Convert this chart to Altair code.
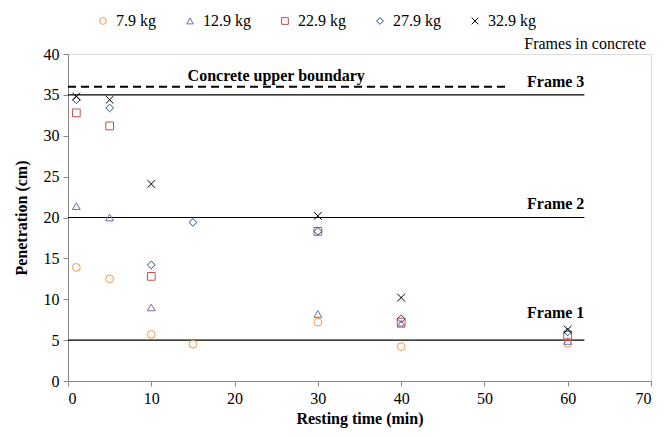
import altair as alt
import pandas as pd

# ---- data ----
series = ["7.9 kg", "12.9 kg", "22.9 kg", "27.9 kg", "32.9 kg"]
colors = ["#F79646", "#8064A2", "#C0504D", "#1F4E8C", "#000000"]
shapes = ["circle", "triangle-up", "square", "diamond", "M-1,-1L1,1M-1,1L1,-1"]

t_79 = [1, 5, 10, 15, 30, 40, 60]
p_79 = [13.9, 12.5, 5.7, 4.5, 7.2, 4.2, 4.6]
t_129 = [1, 5, 10, 30, 40, 60]
p_129 = [21.4, 20.0, 9.0, 8.2, 7.0, 4.9]
t_229 = [1, 5, 10, 30, 40, 60]
p_229 = [32.8, 31.2, 12.8, 18.3, 7.2, 5.6]
t_279 = [1, 5, 10, 15, 30, 40, 60]
p_279 = [34.4, 33.4, 14.2, 19.4, 18.3, 7.6, 6.0]
t_329 = [1, 5, 10, 30, 40, 60]
p_329 = [34.8, 34.4, 24.1, 20.2, 10.2, 6.3]

frame_levels = [5, 20, 35]
frame_labels = ["Frame 1", "Frame 2", "Frame 3"]
frame_label_y = [8.3, 21.7, 36.6]
frame_end = 62
boundary_level = 36
boundary_end = 53

FONT = "Liberation Serif"

rows = []
for name, ts, ps in zip(series, [t_79, t_129, t_229, t_279, t_329],
                        [p_79, p_129, p_229, p_279, p_329]):
    for t, p in zip(ts, ps):
        rows.append({"time": t, "pen": p, "series": name})
df = pd.DataFrame(rows)

xscale = alt.Scale(domain=[0, 70], nice=False)
yscale = alt.Scale(domain=[0, 40], nice=False)

points = alt.Chart(df).mark_point(filled=False, size=60, strokeWidth=1, opacity=1).encode(
    x=alt.X("time:Q", scale=xscale,
            axis=alt.Axis(title="Resting time (min)", values=list(range(0, 71, 10)),
                          grid=False, domainColor="#888888", tickColor="#888888",
                          tickSize=5, labelFont=FONT, labelFontSize=16, labelColor="black",
                          titleFont=FONT, titleFontSize=16, titleFontWeight="bold",
                          titleColor="black", labelPadding=4, titlePadding=4)),
    y=alt.Y("pen:Q", scale=yscale,
            axis=alt.Axis(title="Penetration (cm)", values=list(range(0, 41, 5)),
                          grid=False, domainColor="#888888", tickColor="#888888",
                          tickSize=5, labelFont=FONT, labelFontSize=16, labelColor="black",
                          titleFont=FONT, titleFontSize=16, titleFontWeight="bold",
                          titleColor="black", labelPadding=4, titlePadding=14)),
    color=alt.Color("series:N", scale=alt.Scale(domain=series, range=colors),
                    legend=alt.Legend(orient="none", legendX=27, legendY=-41,
                                      direction="horizontal", title=None,
                                      labelFont=FONT, labelFontSize=16, labelColor="black",
                                      symbolSize=45, symbolStrokeWidth=1,
                                      columnPadding=26, labelOffset=5)),
    shape=alt.Shape("series:N", scale=alt.Scale(domain=series, range=shapes), legend=None),
)

frames_df = pd.DataFrame({"y": frame_levels, "x0": [0] * 3, "x1": [frame_end] * 3,
                          "label": frame_labels, "ly": frame_label_y})
frame_rules = alt.Chart(frames_df).mark_rule(color="black", strokeWidth=1.2).encode(
    x=alt.X("x0:Q", scale=xscale), x2="x1:Q", y=alt.Y("y:Q", scale=yscale))
frame_text = alt.Chart(frames_df).mark_text(
    align="right", baseline="middle", font=FONT, fontSize=16, fontWeight="bold",
    color="black").encode(x=alt.X("x1:Q", scale=xscale), y=alt.Y("ly:Q", scale=yscale),
                          text="label:N")

bdf = pd.DataFrame({"y": [boundary_level], "x0": [0], "x1": [boundary_end],
                    "tx": [25], "ty": [37.3], "label": ["Concrete upper boundary"]})
boundary = alt.Chart(bdf).mark_rule(color="black", strokeWidth=2, strokeDash=[8, 5]).encode(
    x=alt.X("x0:Q", scale=xscale), x2="x1:Q", y=alt.Y("y:Q", scale=yscale))
boundary_text = alt.Chart(bdf).mark_text(
    align="center", baseline="middle", font=FONT, fontSize=16, fontWeight="bold",
    color="black").encode(x=alt.X("tx:Q", scale=xscale), y=alt.Y("ty:Q", scale=yscale),
                          text="label:N")

note_df = pd.DataFrame({"tx": [70], "ty": [41.2], "label": ["Frames in concrete"]})
note = alt.Chart(note_df).mark_text(
    align="right", baseline="middle", font=FONT, fontSize=16, color="black", dx=-5).encode(
    x=alt.X("tx:Q", scale=xscale), y=alt.Y("ty:Q", scale=yscale), text="label:N")

chart = alt.layer(boundary, frame_rules, frame_text, boundary_text, note, points).properties(
    width=583, height=327,
)

chart.save("out.html", embed_options={"renderer": "svg", "actions": False})
